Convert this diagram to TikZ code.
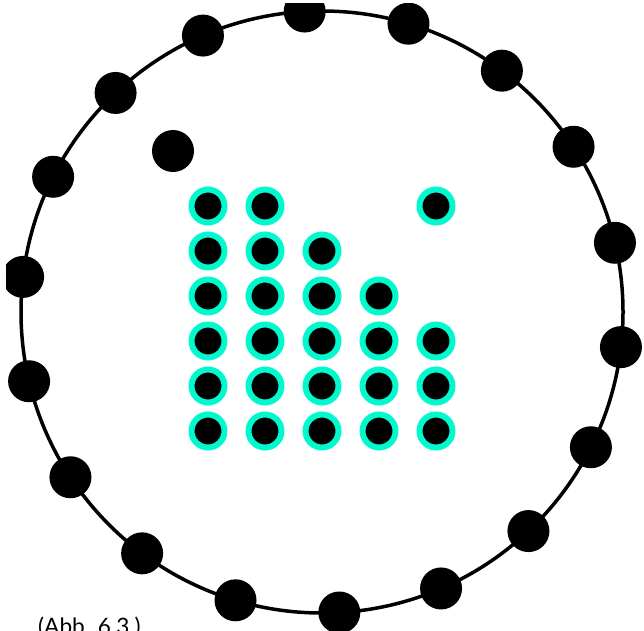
\documentclass[tikz,border=0pt]{standalone}
\usepackage{fontspec}
\setmainfont{Lato}
\definecolor{ringcyan}{RGB}{0,250,205}
\begin{document}
\begin{tikzpicture}[x=1pt,y=-1pt,
  outerdot/.style={circle,fill=black,minimum size=42pt,inner sep=0pt},
  griddot/.style={circle,fill=black,draw=ringcyan,line width=6pt,minimum size=33pt,inner sep=0pt},
  bigring/.style={circle,draw=black,line width=3.5pt,minimum size=602pt,inner sep=0pt,outer sep=0pt}]
\useasboundingbox (0,0) rectangle (644,630);
\clip (6,3) rectangle (644,630);
\node[bigring] (big) at (322,312) {};
\foreach \k in {0,...,17} {
  \path (big.center) ++({-(13.3+20*\k)}:301) node[outerdot] (o\k) {};
}
\node[outerdot] (lone) at (173,151) {};
\foreach \c/\x in {1/208,2/265,3/322,4/379,5/436} {
  \foreach \r/\y in {1/206,2/251,3/296,4/341,5/386,6/431} {
    \pgfmathtruncatemacro\show{(\c==1)||(\c==2)||(\c==3&&\r>1)||(\c==4&&\r>2)||(\c==5&&(\r==1||\r>3))}
    \ifnum\show=1
      \node[griddot] (g\c\r) at (\x,\y) {};
    \fi
  }
}
\node[anchor=base west,inner sep=0pt,font=\fontsize{22.6}{27}\selectfont] (cap) at (38,634) {(Abb. 6.3.)};
\end{tikzpicture}
\end{document}
